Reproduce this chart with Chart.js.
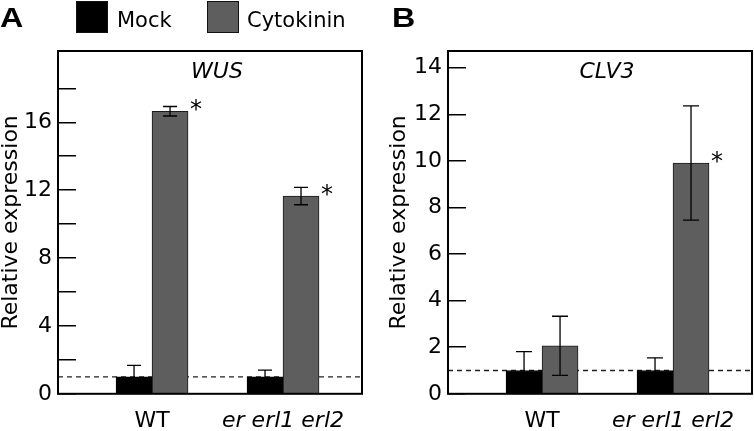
<!DOCTYPE html>
<html>
<head>
<meta charset="utf-8">
<title>WUS / CLV3 relative expression</title>
<script src="https://cdn.jsdelivr.net/npm/chart.js@4.4.1/dist/chart.umd.min.js"></script>
<style>
  body { margin: 0; background: #fff; font-family: 'DejaVu Sans', sans-serif; }
  #page { position: relative; width: 754px; height: 431px; overflow: hidden; }
  canvas { position: absolute; top: 0; }
  #chartA { left: 0; }
  #chartB { left: 378px; }
  .panel-letter { position: absolute; font-family: 'Liberation Sans', Arial, sans-serif; font-size: 28px;
                  font-weight: bold; line-height: 28px; transform: scaleX(1.15); transform-origin: left top; }
  .legend-item { position: absolute; top: 1px; height: 32px; }
  .swatch { position: absolute; left: 0; top: 0; width: 32px; height: 32px; box-sizing: border-box; }
  .legend-text { position: absolute; top: 3px; white-space: nowrap; font-size: 21px; line-height: 32px; }
</style>
</head>
<body>
<div id="page">
  <canvas id="chartA" width="376" height="431"></canvas>
  <canvas id="chartB" width="376" height="431"></canvas>
  <div class="panel-letter" style="left:0px; top:4px;">A</div>
  <div class="panel-letter" style="left:392px; top:4px;">B</div>
  <div id="legend"></div>
</div>
<script>
const categories = ['WT', 'er erl1 erl2'];
const italicCategory = [false, true];
const groupPos = [1, 2];
const seriesLabels = ['Mock', 'Cytokinin'];
const seriesColors = ['#000000', '#5e5e5e'];

// WUS (panel A)
const wusMock = [1.0, 1.0];
const wusMockErr = [0.68, 0.39];
const wusCyto = [16.65, 11.65];
const wusCytoErr = [0.28, 0.51];
const wusCytoStar = [true, true];
const wusTicks = [0, 2, 4, 6, 8, 10, 12, 14, 16, 18];

// CLV3 (panel B)
const clvMock = [1.0, 1.0];
const clvMockErr = [0.81, 0.54];
const clvCyto = [2.06, 9.91];
const clvCytoErr = [1.27, 2.45];
const clvCytoStar = [false, true];
const clvTicks = [0, 2, 4, 6, 8, 10, 12, 14];

Chart.defaults.font.family = "'DejaVu Sans', sans-serif";
Chart.defaults.color = '#000';

// legend from the series arrays
const legendEl = document.getElementById('legend');
const legendLeft = [76, 207];
seriesLabels.forEach((label, i) => {
    const item = document.createElement('div');
    item.className = 'legend-item';
    item.style.left = legendLeft[i] + 'px';
    const sw = document.createElement('div');
    sw.className = 'swatch';
    sw.style.background = seriesColors[i];
    sw.style.border = '1px solid #111';
    const txt = document.createElement('div');
    txt.className = 'legend-text';
    txt.style.left = (i === 0 ? 41 : 40) + 'px';
    txt.textContent = label;
    item.appendChild(sw);
    item.appendChild(txt);
    legendEl.appendChild(item);
});

// dashed baseline at 1, behind the bars
const baseline = {
    id: 'baseline',
    beforeDatasetsDraw(chart) {
        const {ctx, chartArea, scales: {y}} = chart;
        const py = y.getPixelForValue(1);
        ctx.save();
        ctx.strokeStyle = '#222';
        ctx.lineWidth = 1.3;
        ctx.setLineDash([5, 4]);
        ctx.beginPath();
        ctx.moveTo(chartArea.left, py);
        ctx.lineTo(chartArea.right, py);
        ctx.stroke();
        ctx.restore();
    }
};

// error bars, asterisks, frame and gene name
const extras = {
    id: 'extras',
    afterDatasetsDraw(chart, args, opts) {
        const {ctx, chartArea, scales: {y}} = chart;
        ctx.save();
        ctx.strokeStyle = '#000';
        ctx.lineWidth = 1.3;
        chart.data.datasets.forEach((ds, di) => {
            chart.getDatasetMeta(di).data.forEach((bar, i) => {
                const v = ds.data[i].y;
                const e = ds.err[i];
                const yHi = y.getPixelForValue(v + e);
                const yLo = y.getPixelForValue(v - e);
                const half = opts.cap / 2;
                ctx.beginPath();
                ctx.moveTo(bar.x, yHi); ctx.lineTo(bar.x, yLo);
                ctx.moveTo(bar.x - half, yHi); ctx.lineTo(bar.x + half, yHi);
                ctx.moveTo(bar.x - half, yLo); ctx.lineTo(bar.x + half, yLo);
                ctx.stroke();
                if (ds.star && ds.star[i]) {
                    ctx.font = "24px 'DejaVu Sans'";
                    ctx.fillStyle = '#000';
                    ctx.textAlign = 'left';
                    ctx.textBaseline = 'alphabetic';
                    ctx.fillText('*', bar.x + bar.width / 2 + 2, bar.y + 6);
                }
            });
        });
        ctx.lineWidth = 2;
        ctx.strokeRect(chartArea.left, chartArea.top, chartArea.right - chartArea.left, chartArea.bottom - chartArea.top);
        ctx.font = "italic 22px 'DejaVu Sans'";
        ctx.textAlign = 'center';
        ctx.textBaseline = 'alphabetic';
        ctx.fillText(opts.gene, (chartArea.left + chartArea.right) / 2 + 7, chartArea.top + 27);
        ctx.restore();
    }
};

function points(values) {
    return values.map((v, i) => ({x: groupPos[i], y: v}));
}

function makeChart(id, gene, mock, mockErr, cyto, cytoErr, star, ticks, yMax, labelEvery, pad, yWidth, cap) {
    return new Chart(document.getElementById(id), {
        type: 'bar',
        data: {
            datasets: [{
                label: seriesLabels[0],
                data: points(mock),
                err: mockErr,
                backgroundColor: seriesColors[0],
                borderColor: '#000',
                borderWidth: 1
            }, {
                label: seriesLabels[1],
                data: points(cyto),
                err: cytoErr,
                star: star,
                backgroundColor: seriesColors[1],
                borderColor: '#1a1a1a',
                borderWidth: 1
            }]
        },
        options: {
            responsive: false,
            animation: false,
            barThickness: 36,
            layout: { padding: pad },
            plugins: {
                legend: { display: false },
                tooltip: { enabled: false },
                extras: { gene: gene, cap: cap }
            },
            scales: {
                x: {
                    type: 'linear',
                    offset: false,
                    min: 0.282,
                    max: 2.603,
                    grid: { display: false },
                    border: { display: false },
                    afterBuildTicks: s => { s.ticks = groupPos.map(v => ({value: v})); },
                    afterFit: s => { s.height = 34; },
                    ticks: {
                        padding: 6,
                        maxRotation: 0,
                        autoSkip: false,
                        font: ctx => ({size: 22, style: italicCategory[ctx.index] ? 'italic' : 'normal'}),
                        callback: (val, i) => categories[i]
                    }
                },
                y: {
                    min: 0,
                    max: yMax,
                    grid: { drawOnChartArea: false, tickLength: -18, color: '#000', lineWidth: 1.5 },
                    border: { display: false },
                    afterBuildTicks: s => { s.ticks = ticks.map(v => ({value: v})); },
                    afterFit: s => { s.width = yWidth; },
                    ticks: {
                        padding: 24,
                        font: { size: 22 },
                        callback: v => (v % labelEvery === 0 ? v : '')
                    },
                    title: {
                        display: true,
                        text: 'Relative expression',
                        font: { size: 22, lineHeight: 1 },
                        padding: 0
                    }
                }
            }
        },
        plugins: [baseline, extras]
    });
}

makeChart('chartA', 'WUS', wusMock, wusMockErr, wusCyto, wusCytoErr, wusCytoStar, wusTicks, 20.2, 4,
    {top: 51, right: 14, bottom: 0, left: 0}, 58, 14);
makeChart('chartB', 'CLV3', clvMock, clvMockErr, clvCyto, clvCytoErr, clvCytoStar, clvTicks, 14.72, 2,
    {top: 51, right: 2, bottom: 0, left: 10}, 60, 16);
</script>
</body>
</html>
